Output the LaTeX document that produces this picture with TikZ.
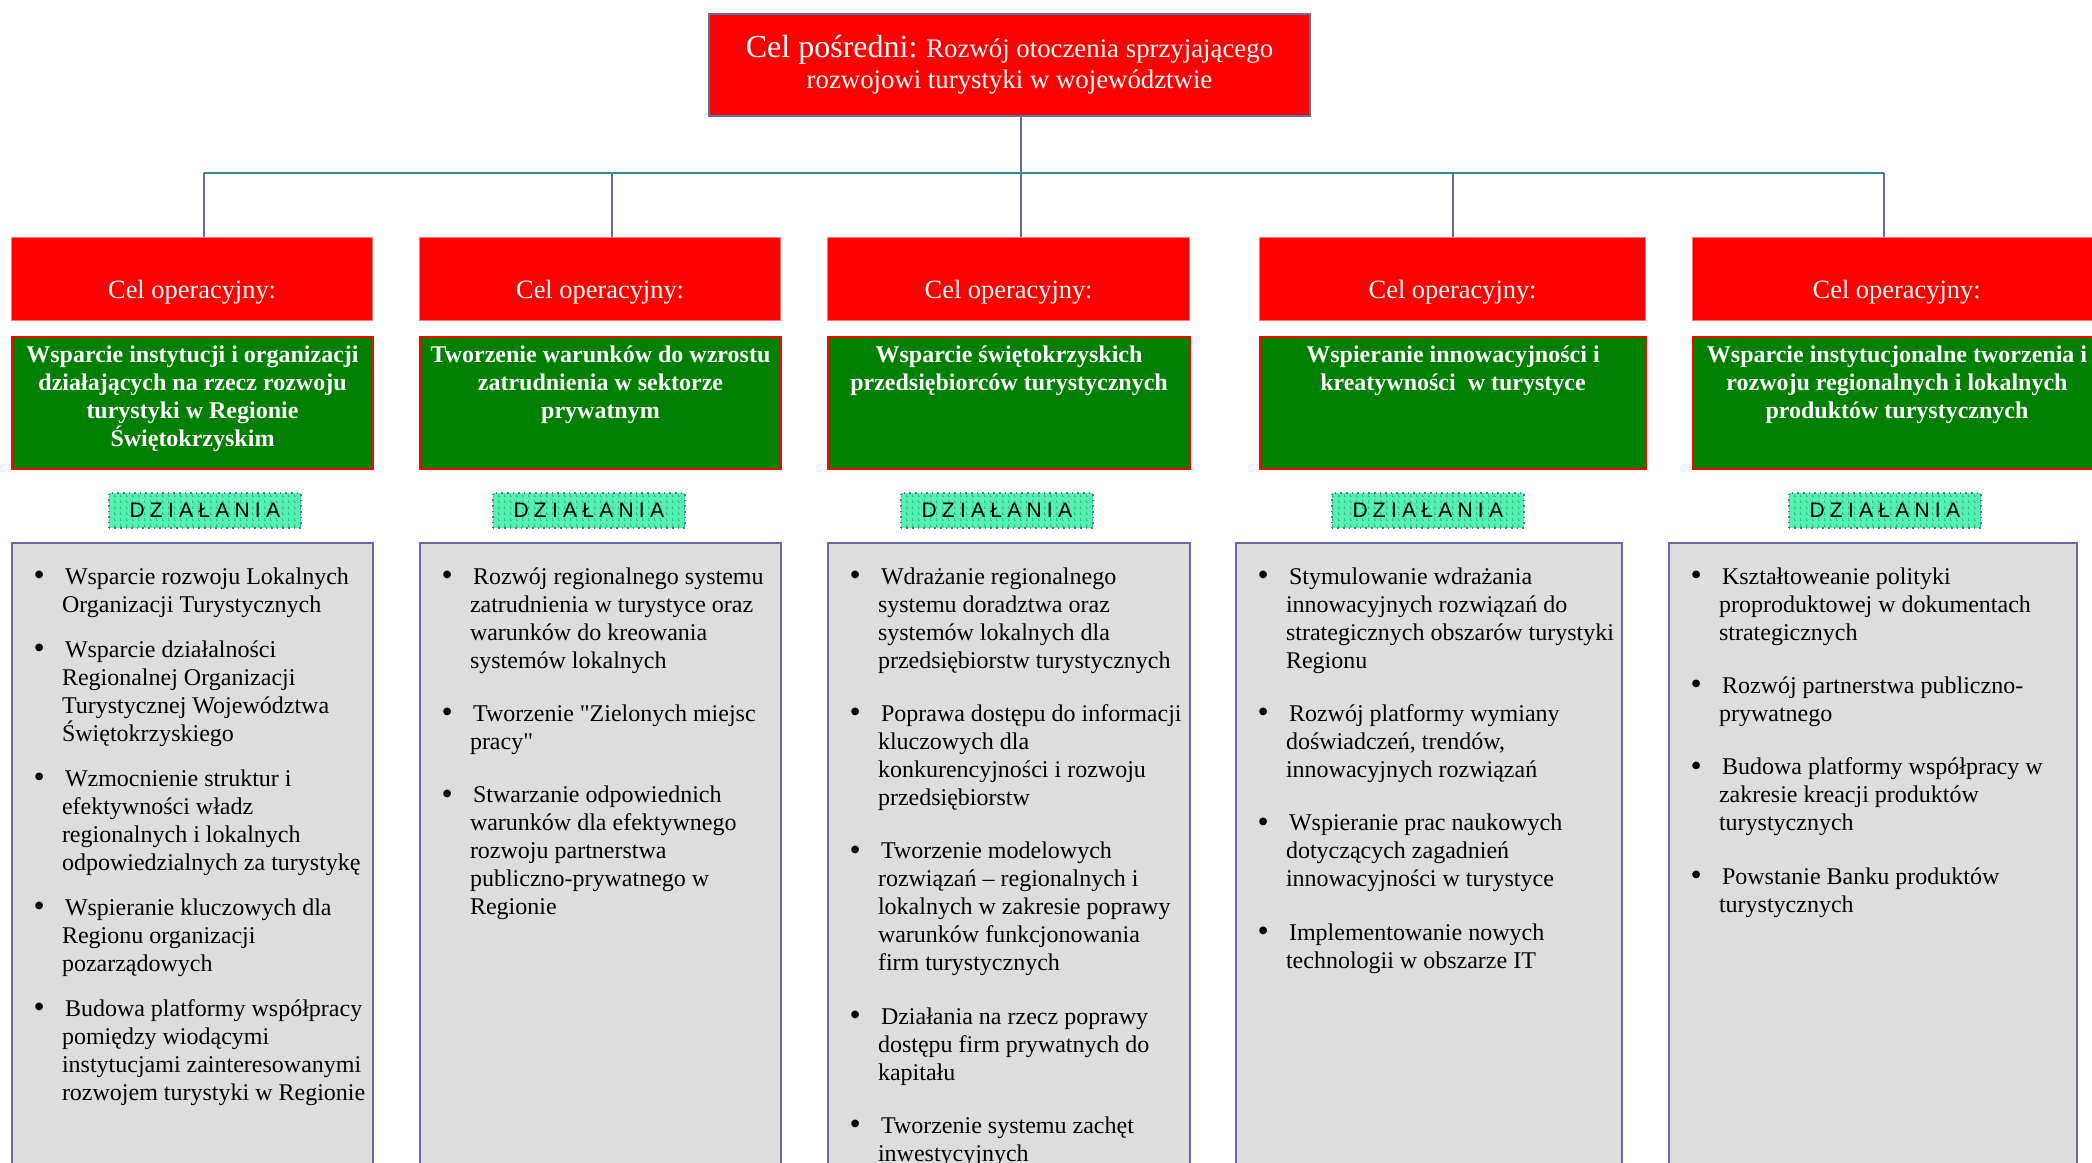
\documentclass[tikz,border=0pt]{standalone}
\usepackage{fontspec}
\setmainfont{Liberation Serif}
\newfontfamily\dzfont[LetterSpace=25]{Liberation Sans}
\usetikzlibrary{patterns}

\definecolor{celred}{RGB}{255,0,0}
\definecolor{celgreen}{RGB}{0,128,0}
\definecolor{slate}{RGB}{105,105,165}
\definecolor{busteal}{RGB}{45,140,140}
\definecolor{actgray}{RGB}{221,221,221}
\definecolor{mint}{RGB}{85,240,178}
\definecolor{mintdark}{RGB}{45,200,140}
\definecolor{lightred}{RGB}{255,120,120}

\newcommand{\aimtext}[2]{\parbox[t][66pt][t]{#1}{\fontsize{12}{14}\selectfont\bfseries\centering\vspace*{2.7pt}\strut #2}}
\newcommand{\actlist}[3]{\parbox[t][314pt][t]{#1}{\fontsize{12}{14}\selectfont\raggedright\leftskip=25pt\parskip=#2\parindent=0pt\vspace*{\dimexpr 10.7pt-#2\relax}#3}}
\newcommand{\pkt}{\par\leavevmode\llap{\raisebox{-0.6pt}{\fontsize{16}{16}\selectfont\textbullet}\hspace{8.6pt}}\hspace{1.5pt}\strut}

\begin{document}
\begin{tikzpicture}[x=0.5pt,y=-0.5pt,
    goalbox/.style={anchor=north west,fill=celred,draw=slate,line width=1pt,
      minimum width=300.5pt,minimum height=51pt,inner sep=0pt,text=white,
      align=center,font=\fontsize{13.4}{15.5}\selectfont},
    opbox/.style={anchor=north west,fill=celred,draw=lightred,line width=0.6pt,
      minimum width=#1,minimum height=41.5pt,inner sep=0pt,text=white,
      text height=21pt,text depth=2pt,font=\fontsize{13.2}{15}\selectfont},
    aimbox/.style={anchor=north west,fill=celgreen,draw=celred,line width=1pt,
      inner sep=0pt,text=white},
    dzbox/.style={anchor=north west,preaction={fill=mint},pattern=grid,
      pattern color=mintdark,draw=slate,dotted,line width=0.8pt,
      minimum width=96pt,minimum height=17.5pt,inner sep=0pt,
      text height=10pt,text depth=2.8pt,font=\dzfont\fontsize{10.5}{12}\selectfont},
    actbox/.style={anchor=north west,fill=actgray,draw=slate,line width=1pt,inner sep=0pt},
    link/.style={draw=slate,line width=0.8pt},
    busline/.style={draw=busteal,line width=0.8pt}]
  \useasboundingbox (0,0) rectangle (2092,1162);

  \node[goalbox] (top) at (708,13)
    {{\fontsize{16}{18}\selectfont Cel pośredni:} Rozwój otoczenia sprzyjającego\\rozwojowi turystyki w województwie};

  \node[opbox=180.5pt] (op1) at (11,237) {Cel operacyjny:};
  \node[opbox=180.5pt] (op2) at (419,237) {Cel operacyjny:};
  \node[opbox=181pt] (op3) at (827,237) {Cel operacyjny:};
  \node[opbox=193pt] (op4) at (1259,237) {Cel operacyjny:};
  \node[opbox=204pt] (op5) at (1692,237) {Cel operacyjny:};

  \node[aimbox] (aim1) at (11,336) {\aimtext{180.5pt}{Wsparcie instytucji i organizacji\\działających na rzecz rozwoju\\turystyki w Regionie\\Świętokrzyskim}};
  \node[aimbox] (aim2) at (419,336) {\aimtext{180.5pt}{Tworzenie warunków do wzrostu\\zatrudnienia w sektorze\\prywatnym}};
  \node[aimbox] (aim3) at (827,336) {\aimtext{181pt}{Wsparcie świętokrzyskich\\przedsiębiorców turystycznych}};
  \node[aimbox] (aim4) at (1259,336) {\aimtext{193pt}{Wspieranie innowacyjności i\\kreatywności \ w turystyce}};
  \node[aimbox] (aim5) at (1692,336) {\aimtext{204pt}{Wsparcie instytucjonalne tworzenia i\\rozwoju regionalnych i lokalnych\\produktów turystycznych}};

  \node[dzbox] (dz1) at (108,492) {DZIAŁANIA};
  \node[dzbox] (dz2) at (492,492) {DZIAŁANIA};
  \node[dzbox] (dz3) at (900,492) {DZIAŁANIA};
  \node[dzbox] (dz4) at (1331,492) {DZIAŁANIA};
  \node[dzbox] (dz5) at (1788,492) {DZIAŁANIA};

  \node[actbox] (act1) at (11,542) {\actlist{180.5pt}{8.5pt}{%
    \pkt Wsparcie rozwoju Lokalnych\\Organizacji Turystycznych
    \pkt Wsparcie działalności\\Regionalnej Organizacji\\Turystycznej Województwa\\Świętokrzyskiego
    \pkt Wzmocnienie struktur i\\efektywności władz\\regionalnych i lokalnych\\odpowiedzialnych za turystykę
    \pkt Wspieranie kluczowych dla\\Regionu organizacji\\pozarządowych
    \pkt Budowa platformy współpracy\\pomiędzy wiodącymi\\instytucjami zainteresowanymi\\rozwojem turystyki w Regionie}};
  \node[actbox] (act2) at (419,542) {\actlist{180.5pt}{12.7pt}{%
    \pkt Rozwój regionalnego systemu\\zatrudnienia w turystyce oraz\\warunków do kreowania\\systemów lokalnych
    \pkt Tworzenie \textquotedbl Zielonych miejsc\\pracy\textquotedbl
    \pkt Stwarzanie odpowiednich\\warunków dla efektywnego\\rozwoju partnerstwa\\publiczno-prywatnego w\\Regionie}};
  \node[actbox] (act3) at (827,542) {\actlist{181pt}{12.7pt}{%
    \pkt Wdrażanie regionalnego\\systemu doradztwa oraz\\systemów lokalnych dla\\przedsiębiorstw turystycznych
    \pkt Poprawa dostępu do informacji\\kluczowych dla\\konkurencyjności i rozwoju\\przedsiębiorstw
    \pkt Tworzenie modelowych\\rozwiązań – regionalnych i\\lokalnych w zakresie poprawy\\warunków funkcjonowania\\firm turystycznych
    \pkt Działania na rzecz poprawy\\dostępu firm prywatnych do\\kapitału
    \pkt Tworzenie systemu zachęt\\inwestycyjnych}};
  \node[actbox] (act4) at (1235,542) {\actlist{193pt}{12.7pt}{%
    \pkt Stymulowanie wdrażania\\innowacyjnych rozwiązań do\\strategicznych obszarów turystyki\\Regionu
    \pkt Rozwój platformy wymiany\\doświadczeń, trendów,\\innowacyjnych rozwiązań
    \pkt Wspieranie prac naukowych\\dotyczących zagadnień\\innowacyjności w turystyce
    \pkt Implementowanie nowych\\technologii w obszarze IT}};
  \node[actbox] (act5) at (1668,542) {\actlist{204pt}{12.7pt}{%
    \pkt Kształtoweanie polityki\\proproduktowej w dokumentach\\strategicznych
    \pkt Rozwój partnerstwa publiczno-\\prywatnego
    \pkt Budowa platformy współpracy w\\zakresie kreacji produktów\\turystycznych
    \pkt Powstanie Banku produktów\\turystycznych}};

  \coordinate (j1) at (204,173);
  \coordinate (j2) at (612,173);
  \coordinate (j3) at (1021,173);
  \coordinate (j4) at (1453,173);
  \coordinate (j5) at (1884,173);
  \draw[busline] (j1) -- (j5);
  \draw[link] (j3 |- top.south) -- (j3);
  \draw[link] (j1) -- (j1 |- op1.north);
  \draw[link] (j2) -- (j2 |- op2.north);
  \draw[link] (j3) -- (j3 |- op3.north);
  \draw[link] (j4) -- (j4 |- op4.north);
  \draw[link] (j5) -- (j5 |- op5.north);
\end{tikzpicture}
\end{document}
